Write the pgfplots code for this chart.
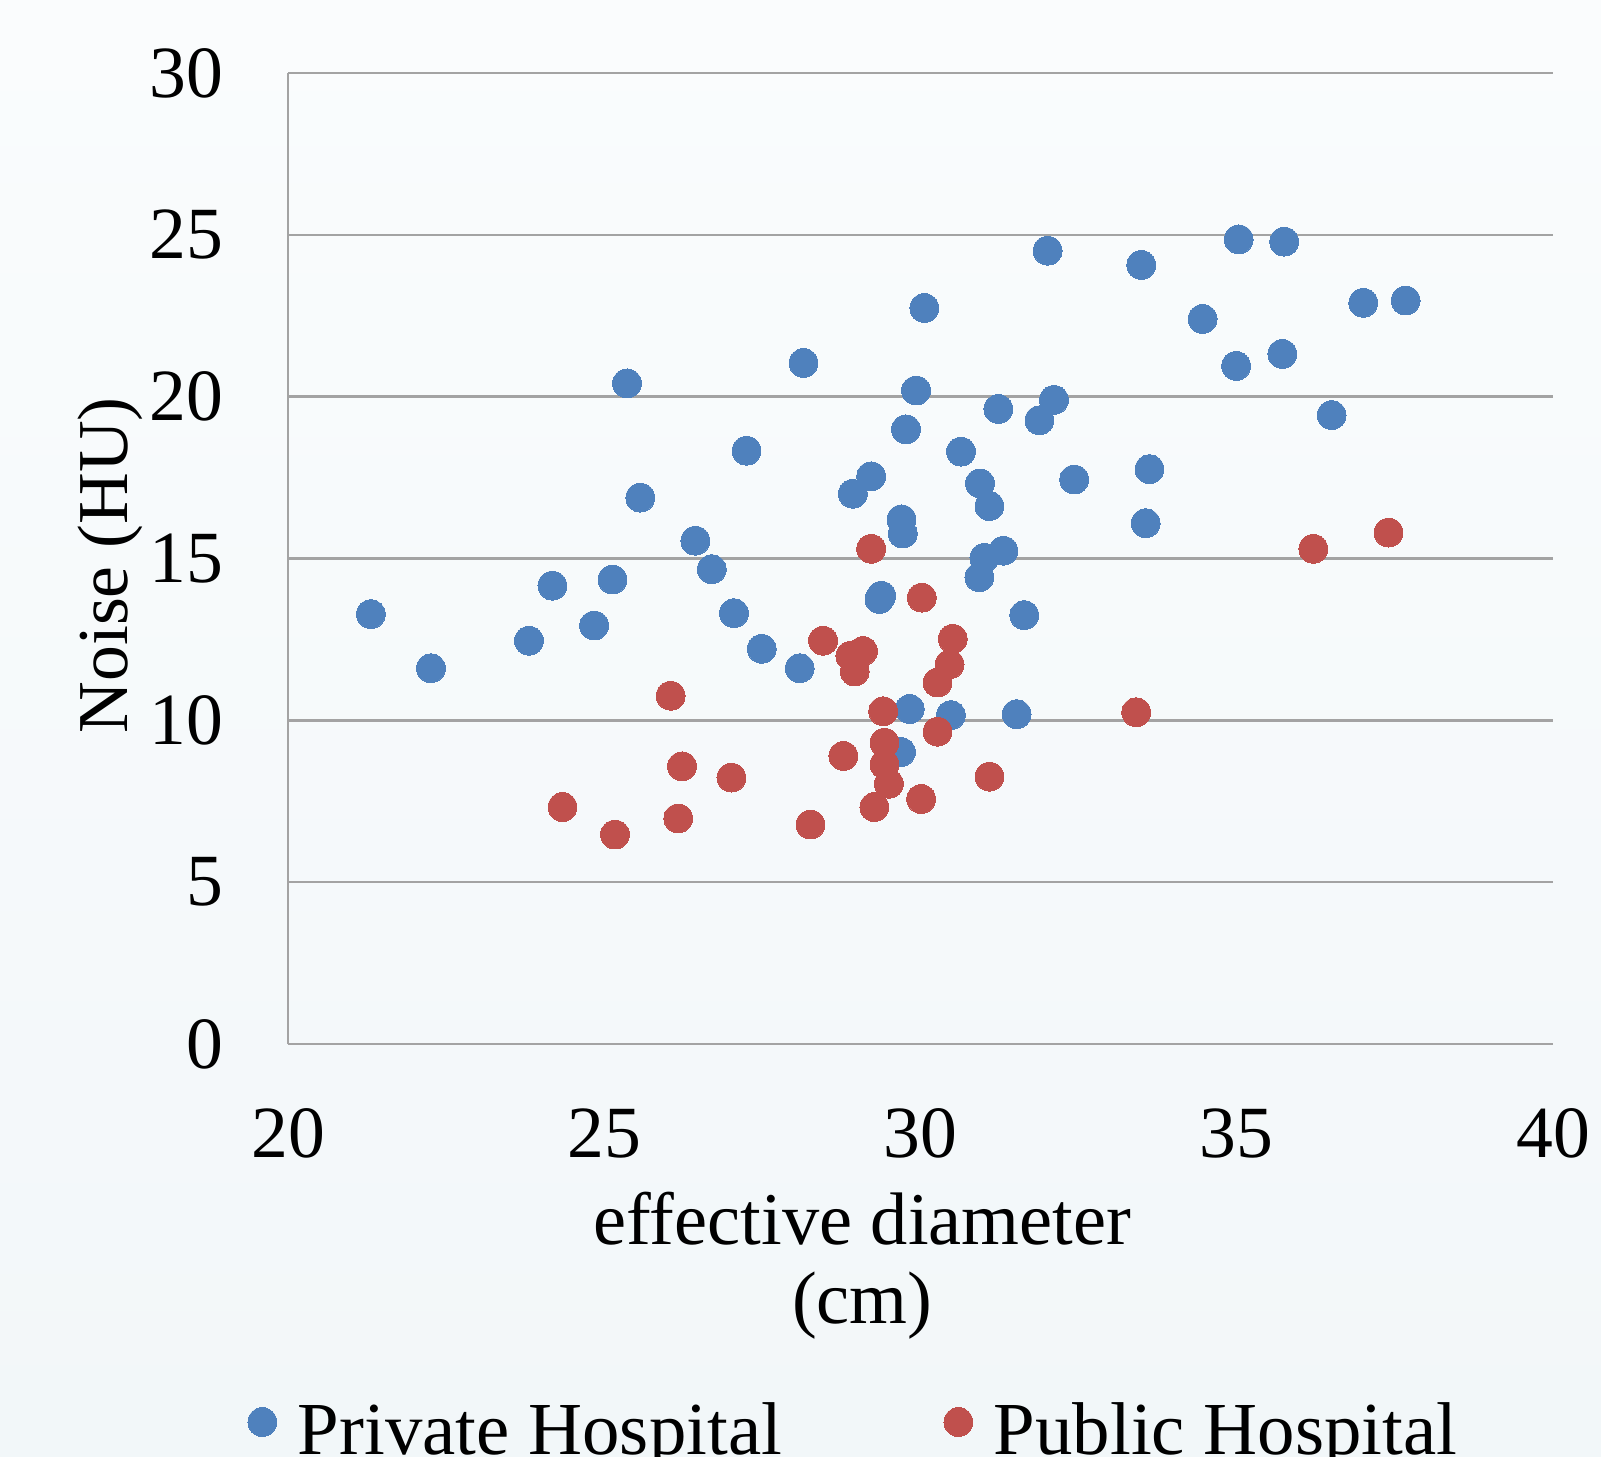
\documentclass[border=0pt]{standalone}
\usepackage{fontspec}
\setmainfont{Liberation Serif}
\usepackage{pgfplots}
\pgfplotsset{compat=1.18}
\definecolor{privblue}{HTML}{4F81BD}
\definecolor{pubred}{HTML}{C0504D}
\definecolor{gridgray}{HTML}{A3A3A3}
\definecolor{bgtop}{HTML}{FAFCFD}
\definecolor{bgbot}{HTML}{F2F7F9}
\begin{document}
\begin{tikzpicture}
\clip (0pt,0pt) rectangle (400.25pt,364pt);
\shade[top color=bgtop, bottom color=bgbot] (0pt,0pt) rectangle (400.25pt,364pt);
\begin{axis}[
  at={(72pt,103pt)}, anchor=south west,
  scale only axis, width=316.25pt, height=242.75pt,
  xmin=20, xmax=40, ymin=0, ymax=30,
  xtick={20,25,30,35,40}, ytick={0,5,10,15,20,25,30},
  extra x ticks={20}, extra x tick labels={},
  extra x tick style={xmajorgrids=true},
  ymajorgrids=true,
  grid style={gridgray, line width=0.6pt},
  axis line style={draw=none},
  major tick length=0pt,
  tick style={draw=none},
  /pgf/number format/assume math mode=true,
  ticklabel style={font=\fontsize{18.4}{20}\selectfont, inner sep=0pt},
  xticklabel style={anchor=north, yshift=-16pt},
  yticklabel style={anchor=east, xshift=-16pt},
  xlabel={effective diameter\\(cm)},
  xlabel style={font=\fontsize{18.6}{19.8}\selectfont, align=center, inner sep=0pt,
    at={(axis description cs:0.454,-0.1512)}, anchor=north},
  ylabel={Noise (HU)},
  ylabel style={font=\fontsize{17.9}{20}\selectfont, inner sep=0pt,
    at={(axis description cs:-0.1265,0.493)}, anchor=base},
  legend columns=2,
  legend cell align=left,
  legend style={draw=none, fill=none, inner sep=0pt,
    font=\fontsize{18.7}{21}\selectfont,
    at={(axis description cs:-0.0323,-0.3988)}, anchor=west,
    /tikz/every odd column/.append style={column sep=3.3pt},
    /tikz/every even column/.append style={column sep=38.5pt}},
  legend image code/.code={\draw[mark repeat=1,#1] plot coordinates {(0pt,2.3pt)};},
]
\addplot[only marks, mark=*, mark size=3.6pt, color=privblue,
  mark options={fill=privblue, draw=privblue, line width=0pt}] coordinates {
(21.31,13.28) (22.26,11.61) (23.81,12.46) (24.18,14.16) (24.84,12.93)
(25.13,14.35) (25.36,20.41) (25.57,16.88) (26.44,15.55) (26.70,14.67)
(27.05,13.31) (27.25,18.33) (27.49,12.21) (28.09,11.61) (28.15,21.04)
(28.93,17.00) (29.22,17.54) (29.35,13.75) (29.38,13.85) (29.69,9.02)
(29.70,16.21) (29.72,15.77) (29.77,18.99) (29.83,10.35) (29.93,20.19)
(30.06,22.74) (30.48,10.16) (30.64,18.30) (30.94,17.32) (30.93,14.42)
(31.01,15.02) (31.09,16.62) (31.23,19.62) (31.31,15.24) (31.52,10.19)
(31.64,13.25) (31.88,19.27) (32.01,24.51) (32.11,19.90) (32.43,17.44)
(33.49,24.07) (33.56,16.09) (33.62,17.76) (34.46,22.40) (34.99,20.95)
(35.03,24.86) (35.72,21.32) (35.75,24.79) (36.50,19.43) (37.00,22.90)
(37.67,22.97)
};
\addlegendentry{Private Hospital}
\addplot[only marks, mark=*, mark size=3.6pt, color=pubred,
  mark options={fill=pubred, draw=pubred, line width=0pt}] coordinates {
(24.34,7.32) (25.17,6.47) (26.05,10.76) (26.17,6.97) (26.23,8.58)
(27.01,8.23) (28.26,6.78) (28.46,12.46) (28.78,8.90) (28.89,11.99)
(28.96,11.51) (29.09,12.14) (29.22,15.30) (29.27,7.32) (29.41,10.28)
(29.43,9.31) (29.43,8.64) (29.50,8.04) (30.01,7.57) (30.02,13.79)
(30.27,11.17) (30.27,9.65) (30.46,11.73) (30.51,12.52) (31.09,8.26)
(33.41,10.25) (36.21,15.30) (37.40,15.80)
};
\addlegendentry{Public Hospital}
\end{axis}
\end{tikzpicture}
\end{document}
